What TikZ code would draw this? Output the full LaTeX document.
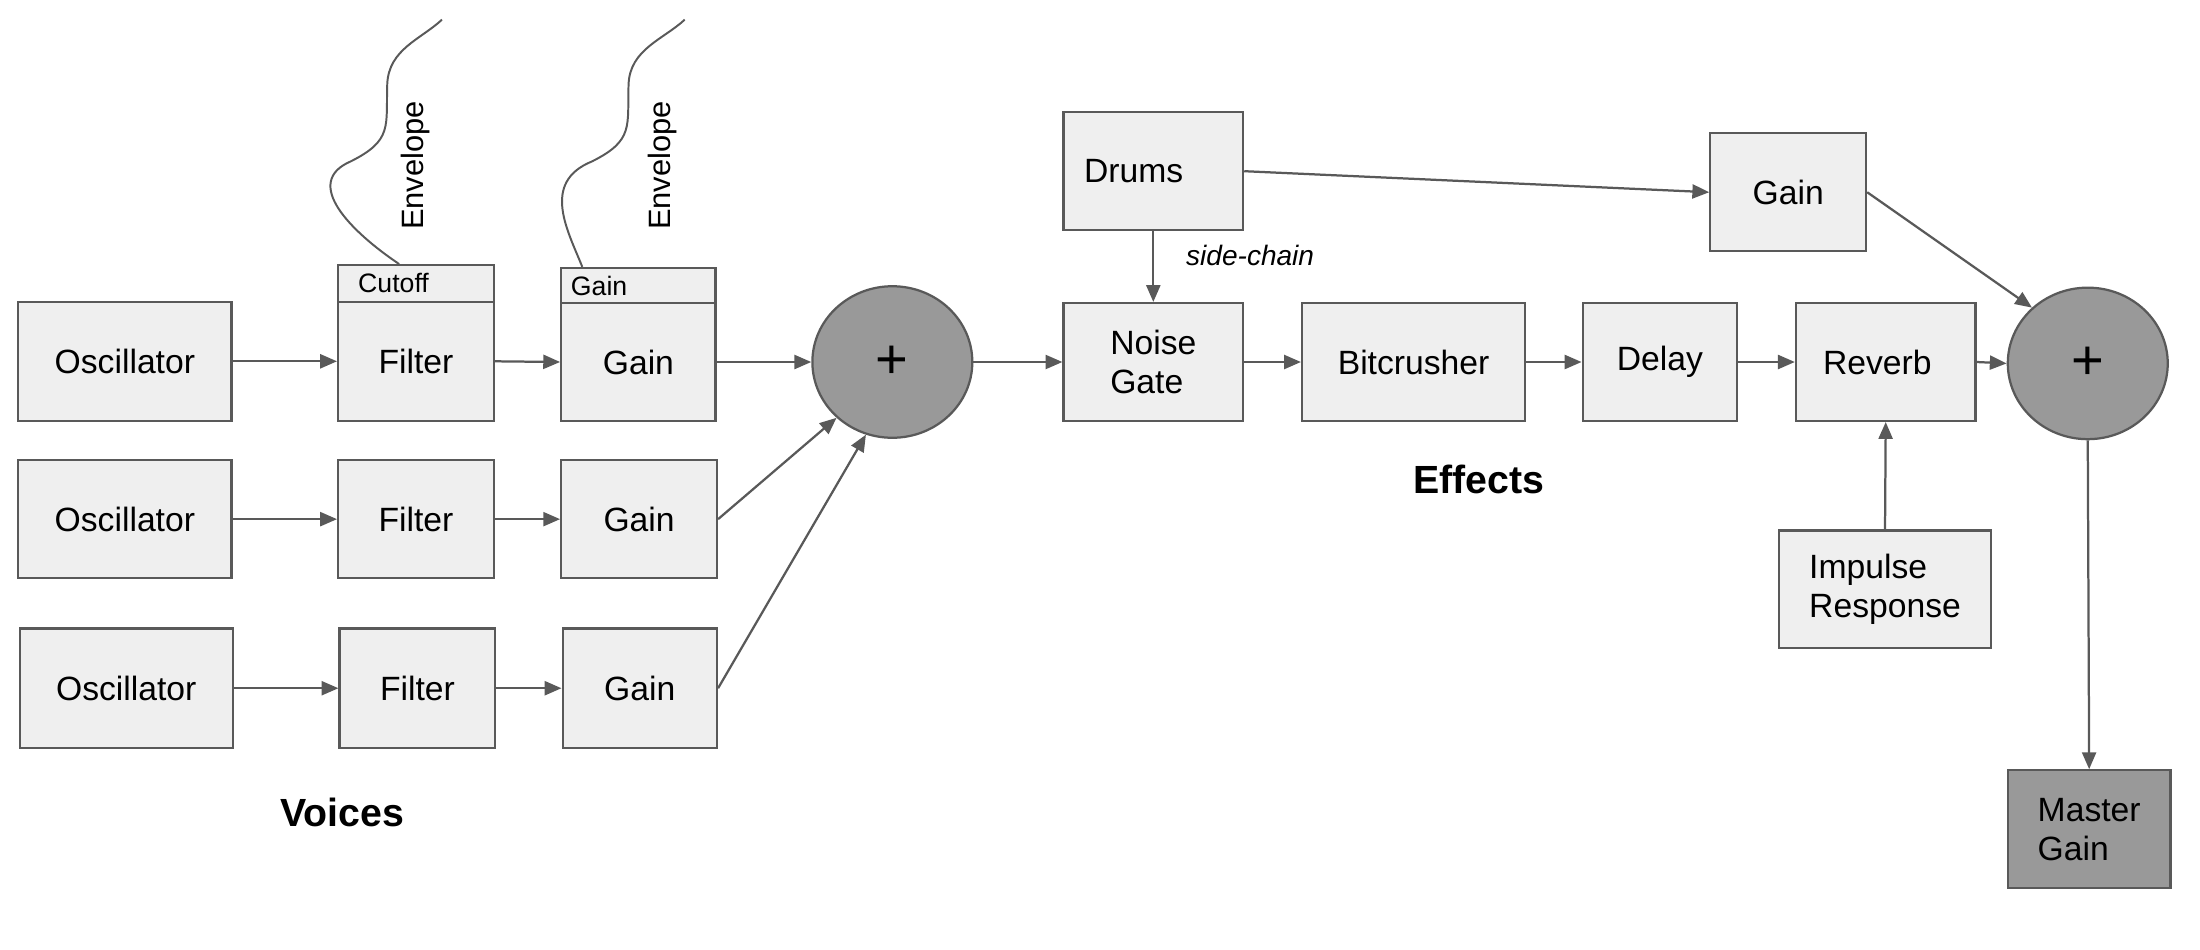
\documentclass[tikz,border=0pt]{standalone}
\usepackage{fontspec}
\setmainfont{Liberation Sans}
\usetikzlibrary{arrows.meta,shapes.geometric}
\definecolor{bx}{HTML}{EFEFEF}
\definecolor{ln}{HTML}{595959}
\definecolor{dk}{HTML}{999999}
\begin{document}
\begin{tikzpicture}[x=0.5pt,y=-0.5pt,
 box/.style={draw=ln,fill=bx,line width=0.8pt,inner sep=0pt,font=\fontsize{12}{14}\selectfont,align=left},
 hdr/.style={draw=ln,fill=bx,line width=0.8pt,inner sep=0pt,font=\fontsize{9.5}{11}\selectfont},
 sum/.style={draw=ln,fill=dk,line width=0.8pt,ellipse,minimum width=57pt,minimum height=54pt,inner sep=0pt,font=\fontsize{20}{22}\selectfont},
 ar/.style={draw=ln,line width=0.8pt,-{Triangle[length=6pt,width=5pt]}},
 env/.style={draw=ln,line width=0.7pt}]
\useasboundingbox (0,0) rectangle (1568,677);
\newcommand{\bx}[6]{\node[box,minimum width={(#4-#2)*0.5pt},minimum height={(#5-#3)*0.5pt}] (#1) at ({(#2+#4)/2},{(#3+#5)/2}) {#6};}
\newcommand{\hd}[6]{\node[hdr,minimum width={(#4-#2)*0.5pt},minimum height={(#5-#3)*0.5pt}] (#1) at ({(#2+#4)/2},{(#3+#5)/2}) {#6};}
\bx{o1}{13}{215}{165}{300}{Oscillator}
\bx{o2}{13}{328}{165}{412}{Oscillator}
\bx{o3}{14}{448}{166}{533}{Oscillator}
\bx{f1}{241}{215}{352}{300}{Filter}
\hd{c1}{241}{189}{352}{215}{\hspace{-16pt}Cutoff}
\bx{f2}{241}{328}{352}{412}{Filter}
\bx{f3}{242}{448}{353}{533}{Filter}
\bx{g1}{400}{216}{510}{300}{Gain}
\hd{h1}{400}{191}{510}{216}{\hspace{-28pt}Gain}
\bx{g2}{400}{328}{511}{412}{Gain}
\bx{g3}{401}{448}{511}{533}{Gain}
\node[sum] (s1) at (636,258) {+};
\bx{ng}{758}{216}{886}{300}{Noise\\Gate\hspace{20pt}}
\bx{dr}{758}{80}{886}{164}{Drums\hspace{14pt}}
\bx{bc}{928}{216}{1087}{300}{Bitcrusher}
\bx{dl}{1128}{216}{1238}{300}{Delay}
\bx{rv}{1280}{216}{1408}{300}{Reverb\hspace{6pt}}
\node[sum] (s2) at (1488,259) {+};
\bx{gt}{1219}{95}{1330}{179}{Gain}
\bx{ir}{1268}{378}{1419}{462}{Impulse\\Response}
\node[box,fill=dk,minimum width=58pt,minimum height=42pt] (mg) at (1489,591) {Master\\Gain\hspace{10pt}};
\node[font=\fontsize{14}{16}\selectfont\bfseries] (eff) at (1054,342) {Effects};
\node[font=\fontsize{14}{16}\selectfont\bfseries] (voi) at (244,579) {Voices};
\node[font=\fontsize{10}{12}\selectfont\itshape] (sc) at (891,182) {side-chain};
\coordinate (e1) at (315,14);
\coordinate (e2) at (488,14);
\draw[env] ([xshift=-6pt]c1.north) .. controls (250,165) and (215,130) .. (250,115) .. controls (280,100) and (275,90) .. (276,60) .. controls (277,35) and (300,28) .. (e1);
\draw[env] ([xshift=-20pt]h1.north) .. controls (405,165) and (385,130) .. (422,115) .. controls (452,100) and (447,90) .. (448,60) .. controls (449,35) and (473,28) .. (e2);
\node[rotate=90,font=\fontsize{11}{13}\selectfont] (en1) at (296,118) {Envelope};
\node[rotate=90,font=\fontsize{11}{13}\selectfont] (en2) at (472,118) {Envelope};
\foreach \a/\b in {o1/f1,o2/f2,o3/f3,f1/g1,f2/g2,f3/g3,g1/s1,s1/ng,ng/bc,bc/dl,dl/rv,rv/s2}
  \draw[ar] (\a.east) -- (\b.west);
\draw[ar] (g2.east) -- (s1.225);
\draw[ar] (g3.east) -- (s1.250);
\draw[ar] (dr.east) -- (gt.west);
\draw[ar] (dr.south) -- (ng.north);
\draw[ar] (gt.east) -- (s2.135);
\draw[ar] (ir.north) -- (rv.south);
\draw[ar] (s2.south) -- (mg.north);
\end{tikzpicture}
\end{document}
